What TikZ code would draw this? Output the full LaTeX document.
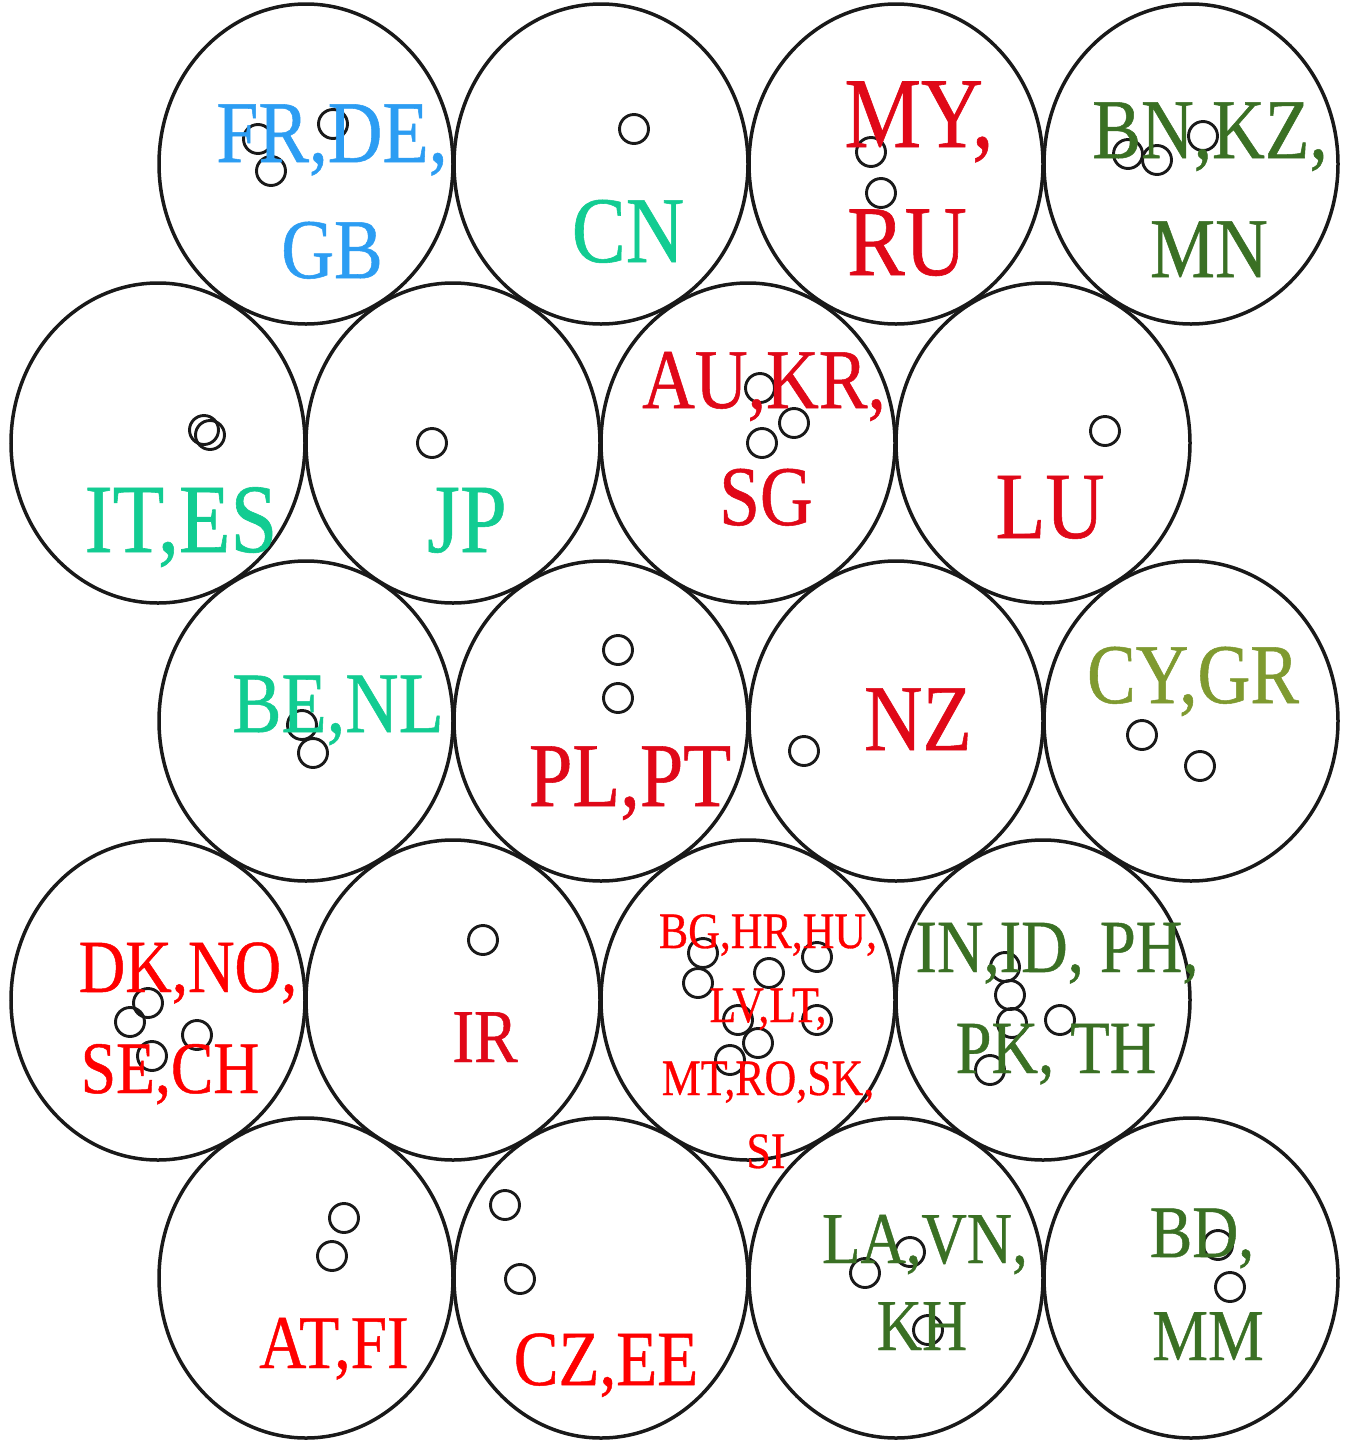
\documentclass[tikz,border=0pt]{standalone}
\usepackage{fontspec}
\setmainfont{Liberation Serif}[FakeStretch=0.86,FakeBold=0.6]
\usetikzlibrary{shapes.geometric}
\definecolor{cblue}{RGB}{44,157,243}
\definecolor{cteal}{RGB}{18,204,146}
\definecolor{ccrim}{RGB}{224,8,24}
\definecolor{cred}{RGB}{255,0,0}
\definecolor{cdgreen}{RGB}{58,112,36}
\definecolor{colive}{RGB}{127,154,48}
\begin{document}
\begin{tikzpicture}[x=0.5pt,y=-0.5pt,
  unit/.style={draw=black!90, line width=1.75pt, ellipse, minimum width=147pt,
    minimum height=160pt, inner sep=0pt},
  dot/.style={draw=black!90, line width=1.45pt},
  lab/.style={anchor=base, inner sep=0pt},
  sz/.style={font=\fontsize{#1pt}{#1pt}\selectfont}]
\fill[white] (0,0) rectangle (1347,1441);
\useasboundingbox (0,0) rectangle (1347,1441);

% map units: hexagonal grid of 5 rows x 4 units
\foreach \r/\y in {1/164,3/721,5/1278}
  \foreach \c/\x in {1/306,2/601,3/896,4/1191}
    \node[unit] (u\r\c) at (\x,\y) {};
\foreach \r/\y in {2/443,4/1000}
  \foreach \c/\x in {1/158,2/453,3/748,4/1043}
    \node[unit] (u\r\c) at (\x,\y) {};

% mapped samples
\foreach \p in {(258,139),(271,171),(333,124),
                (634,129),
                (871,152),(881,193),
                (1128,154),(1157,160),(1203,136),
                (204,430),(210,435),
                (432,443),
                (760,388),(794,423),(762,443),
                (1105,431),
                (302,725),(313,753),
                (618,650),(618,698),
                (804,751),
                (1142,735),(1200,766),
                (148,1003),(130,1022),(152,1056),(197,1035),
                (483,940),
                (703,953),(698,983),(769,973),(817,957),(817,1020),(738,1020),(758,1043),(730,1060),
                (1005,967),(1010,995),(1012,1023),(1060,1020),(990,1070),
                (344,1218),(332,1256),
                (505,1205),(520,1279),
                (865,1273),(910,1252),(928,1330),
                (1218,1245),(1230,1287)}
  \draw[dot] \p circle[radius=14.5];

% country labels
\node[lab,sz=44,cblue] (t11a) at (332,162) {FR,DE,};
\node[lab,sz=42.5,cblue] (t11b) at (332,278) {GB};
\node[lab,sz=47,cteal] (t12) at (628,262) {CN};
\node[lab,sz=50,ccrim] (t13a) at (919,147) {MY,};
\node[lab,sz=50,ccrim] (t13b) at (907,275) {RU};
\node[lab,sz=42.5,cdgreen] (t14a) at (1210,158) {BN,KZ,};
\node[lab,sz=42.5,cdgreen] (t14b) at (1209,277) {MN};

\node[lab,sz=49,cteal] (t21) at (181,552) {IT,ES};
\node[lab,sz=49,cteal] (t22) at (467,552) {JP};
\node[lab,sz=42.5,ccrim] (t23a) at (764,408) {AU,KR,};
\node[lab,sz=42.5,ccrim] (t23b) at (766,525) {SG};
\node[lab,sz=47.5,ccrim] (t24) at (1050,538) {LU};

\node[lab,sz=43,cteal] (t31) at (338,732) {BE,NL};
\node[lab,sz=45.5,ccrim] (t32) at (630,806) {PL,PT};
\node[lab,sz=47,ccrim] (t33) at (918,750) {NZ};
\node[lab,sz=42.5,colive] (t34) at (1193,703) {CY,GR};

\node[lab,sz=37.5,cred] (t41a) at (188,992) {DK,NO,};
\node[lab,sz=37,cred] (t41b) at (170,1093) {SE,CH};
\node[lab,sz=38,ccrim] (t42) at (485,1062) {IR};
\node[lab,sz=25.5,cred] (t43a) at (768,948) {BG,HR,HU,};
\node[lab,sz=25.5,cred] (t43b) at (768,1022) {LV,LT,};
\node[lab,sz=25.5,cred] (t43c) at (768,1095) {MT,RO,SK,};
\node[lab,sz=25.5,cred] (t43d) at (766,1168) {SI};
\node[lab,sz=37.5,cdgreen] (t44a) at (1057,972) {IN,ID, PH,};
\node[lab,sz=37.5,cdgreen] (t44b) at (1056,1073) {PK, TH};

\node[lab,sz=38,cred] (t51) at (334,1368) {AT,FI};
\node[lab,sz=39,cred] (t52) at (606,1385) {CZ,EE};
\node[lab,sz=36.5,cdgreen] (t53a) at (925,1263) {LA,VN,};
\node[lab,sz=36.5,cdgreen] (t53b) at (922,1350) {KH};
\node[lab,sz=37,cdgreen] (t54a) at (1202,1257) {BD,};
\node[lab,sz=36.5,cdgreen] (t54b) at (1208,1360) {MM};
\end{tikzpicture}
\end{document}
